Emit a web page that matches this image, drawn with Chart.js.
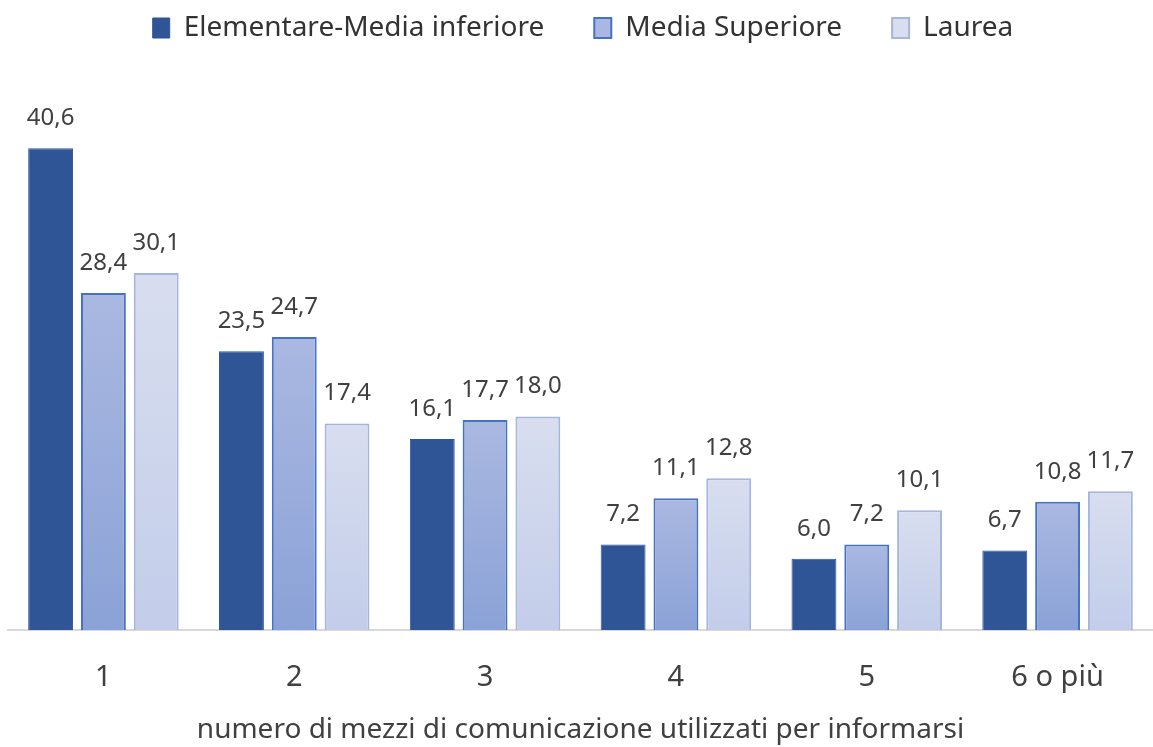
<!DOCTYPE html>
<html><head><meta charset="utf-8">
<script src="https://cdn.jsdelivr.net/npm/chart.js@4/dist/chart.umd.min.js"></script>
<style>html,body{margin:0;padding:0;background:#fff;overflow:hidden}#w{width:1153px;height:747px}</style>
</head><body><div id="w"><canvas id="c"></canvas></div>
<script>
const categories = ["1","2","3","4","5","6 o più"];
const seriesNames = ["Elementare-Media inferiore","Media Superiore","Laurea"];
const elementare = [40.6,23.5,16.1,7.2,6.0,6.7];
const superiore = [28.4,24.7,17.7,11.1,7.2,10.8];
const laurea = [30.1,17.4,18.0,12.8,10.1,11.7];
const axisTitle = "numero di mezzi di comunicazione utilizzati per informarsi";

const FONT = "'Noto Sans', sans-serif";
function grad(top, bottom, solid){
  return function(ctx){
    const chart = ctx.chart;
    if (ctx.type !== 'data' || !chart.scales || !chart.scales.y) return solid;
    const y = chart.scales.y;
    const v = ctx.parsed ? ctx.parsed.y : ctx.raw;
    const yt = y.getPixelForValue(v), yb = y.getPixelForValue(0);
    if (!isFinite(yt) || !isFinite(yb) || yt === yb) return solid;
    const g = chart.ctx.createLinearGradient(0, yt, 0, yb);
    g.addColorStop(0, top); g.addColorStop(1, bottom);
    return g;
  };
}
const legendHeight = {
  id:'legendHeight',
  beforeInit(chart){
    const lg = chart.legend;
    if (!lg) return;
    const orig = lg.fit;
    lg.fit = function(){ orig.call(this); this.height = 144; };
  }
};
const labelPlugin = {
  id:'vals',
  afterDatasetsDraw(chart){
    const c = chart.ctx;
    c.save();
    c.font = "24px " + FONT;
    c.fillStyle = "#404040";
    c.textAlign = "center"; c.textBaseline = "middle";
    chart.data.datasets.forEach((ds,i)=>{
      chart.getDatasetMeta(i).data.forEach((el,j)=>{
        c.fillText(ds.data[j].toFixed(1).replace('.',','), el.x, el.y - 30);
      });
    });
    c.restore();
  }
};
new Chart(document.getElementById('c'), {
  type:'bar',
  data:{
    labels: categories,
    datasets:[
      {label:seriesNames[0], data:elementare, backgroundColor:'#2f5597', borderColor:'#2f5597', borderWidth:1},
      {label:seriesNames[1], data:superiore, backgroundColor:grad('#aab8e1','#8ba2d7','#9aafdc'), borderColor:'#4472c4', borderWidth:2},
      {label:seriesNames[2], data:laurea, backgroundColor:grad('#d8deef','#c3cdea','#cdd5ed'), borderColor:'#a5b5de', borderWidth:2}
    ]
  },
  options:{
    responsive:true, maintainAspectRatio:false, animation:false,
    layout:{padding:{left:8,right:-5,top:-36,bottom:0}},
    datasets:{bar:{categoryPercentage:0.83, barPercentage:0.85}},
    plugins:{
      legend:{position:'top', labels:{font:{size:28,family:FONT}, color:'#333333', boxWidth:17, boxHeight:20, padding:50}},
      tooltip:{enabled:false}
    },
    scales:{
      x:{
        afterFit(scale){ scale.height = 117; },
        grid:{display:true, drawOnChartArea:false, drawTicks:false},
        border:{display:true, color:'#d9d9d9', width:2},
        ticks:{font:{size:29,family:FONT}, color:'#404040', padding:30},
        title:{display:true, text:axisTitle, font:{size:28,family:FONT}, color:'#404040', padding:{top:0,bottom:0}}
      },
      y:{display:false, min:0, max:44}
    }
  },
  plugins:[legendHeight, labelPlugin]
});
</script></body></html>
